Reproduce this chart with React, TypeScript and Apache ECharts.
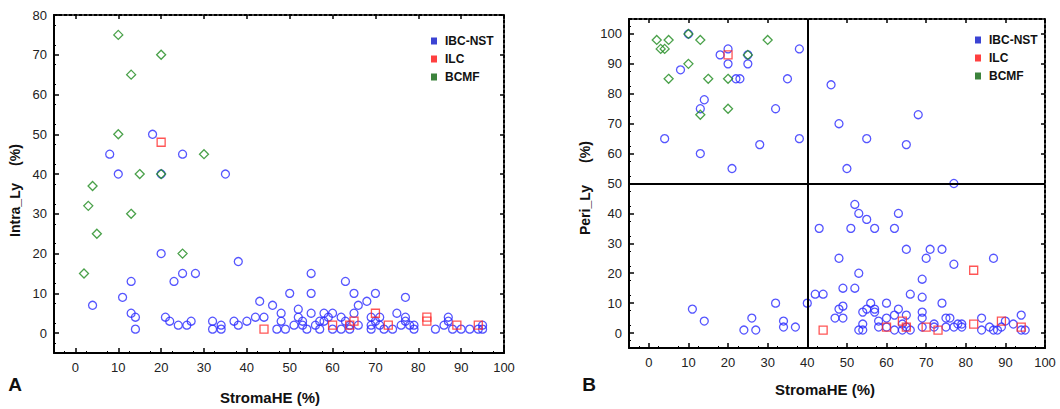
import React, { useEffect, useRef } from "react";
import * as echarts from "echarts";

const xTicks = [0, 10, 20, 30, 40, 50, 60, 70, 80, 90, 100];
const yTicksA = [0, 10, 20, 30, 40, 50, 60, 70, 80];
const yTicksB = [0, 10, 20, 30, 40, 50, 60, 70, 80, 90, 100];
const seriesNames = ["IBC-NST", "ILC", "BCMF"];

// Panel A: StromaHE (%) vs Intra_Ly (%)
const ibcA: number[][] = [
  [18, 50], [8, 45], [10, 40], [20, 40], [25, 45], [35, 40],
  [20, 20], [38, 18], [13, 13], [23, 13], [25, 15], [28, 15], [4, 7], [11, 9], [13, 5], [14, 4], [14, 1],
  [21, 4], [22, 3], [24, 2], [26, 2], [27, 3], [32, 3], [32, 1], [34, 2], [34, 1], [37, 3], [38, 2], [40, 3],
  [42, 4], [44, 4], [43, 8], [46, 7], [48, 5], [48, 3], [47, 1], [49, 1], [50, 10], [52, 6], [52, 4], [51, 2],
  [53, 3], [53, 2], [54, 1], [55, 15], [55, 10], [55, 5], [56, 2], [57, 3], [57, 1],
  [63, 13], [65, 10], [70, 10], [68, 8], [66, 7], [77, 9], [58, 5], [58, 3], [59, 4], [60, 5], [60, 1],
  [62, 4], [62, 1], [63, 3], [64, 2], [64, 1], [65, 5], [66, 2], [69, 4], [69, 2], [69, 1], [70, 3], [71, 4],
  [71, 2], [72, 1], [74, 1], [75, 5], [76, 2], [77, 4], [77, 3], [78, 2], [79, 2], [79, 1], [84, 1], [86, 2],
  [87, 4], [87, 3], [88, 1], [90, 1], [92, 1], [94, 1], [95, 2], [95, 1],
];
const ilcA: number[][] = [
  [20, 48], [44, 1], [60, 2], [64, 2], [65, 3], [70, 5], [73, 2], [82, 4], [82, 3], [89, 2], [94, 2],
];
const bcmfA: number[][] = [
  [10, 75], [20, 70], [13, 65], [10, 50], [30, 45], [15, 40], [20, 40], [4, 37], [3, 32], [13, 30],
  [5, 25], [25, 20], [2, 15],
];

// Panel B: StromaHE (%) vs Peri_Ly (%)
const ibcB: number[][] = [
  [10, 100], [20, 95], [18, 93], [25, 93], [20, 90], [25, 90], [8, 88], [22, 85], [23, 85], [35, 85],
  [38, 95], [14, 78], [13, 75], [32, 75], [4, 65], [38, 65], [13, 60], [28, 63], [21, 55], [46, 83],
  [48, 70], [68, 73], [55, 65], [65, 63], [50, 55], [77, 50],
  [43, 35], [48, 25], [42, 13], [44, 13], [40, 10], [32, 10], [11, 8], [14, 4], [26, 5], [24, 1], [27, 1],
  [34, 4], [34, 2], [37, 2], [47, 5], [48, 8],
  [52, 43], [53, 40], [63, 40], [55, 38], [51, 35], [57, 35], [62, 35], [65, 28], [71, 28], [74, 28],
  [70, 25], [87, 25], [77, 23], [53, 20], [69, 18], [49, 15], [52, 15], [66, 13], [69, 12], [56, 10],
  [60, 10], [74, 10], [49, 9], [54, 7], [55, 8], [57, 8], [57, 7], [63, 8], [49, 5], [58, 4], [60, 5],
  [62, 6], [65, 6], [69, 5], [69, 7], [75, 5], [76, 5], [84, 5], [94, 6], [54, 3], [58, 2], [60, 2],
  [64, 3], [65, 2], [69, 2], [72, 3], [75, 2], [78, 3], [79, 3], [79, 2], [86, 2], [90, 4], [92, 3],
  [53, 1], [54, 1], [62, 1], [64, 1], [66, 1], [72, 2], [77, 2], [84, 1], [87, 1], [88, 1], [89, 2],
  [94, 1], [95, 1],
];
const ilcB: number[][] = [
  [20, 93], [82, 21], [44, 1], [60, 2], [64, 4], [65, 2], [70, 2], [73, 1], [82, 3], [89, 4], [94, 2],
];
const bcmfB: number[][] = [
  [2, 98], [5, 98], [3, 95], [4, 95], [10, 100], [13, 98], [30, 98], [10, 90], [5, 85], [15, 85],
  [20, 85], [25, 93], [20, 75], [13, 73],
];

const refX = 40;
const refY = 50;

const FONT = "'Liberation Sans', Arial, sans-serif";
const BLUE = "#2b2bff";
const RED = "#ff2a2a";
const GREEN = "#1d8a1d";
const LEG_COLORS = ["#0a14c8", "#ff1010", "#0b640b"];

function mainX(grid: number) {
  return {
    type: "value",
    gridIndex: grid,
    position: "bottom",
    min: -5,
    max: 100,
    interval: 5,
    axisLine: { show: true, onZero: false, lineStyle: { color: "#000", width: 2 } },
    axisTick: { show: true, inside: true, length: 5, customValues: xTicks, lineStyle: { color: "#000", width: 1.5 } },
    minorTick: { show: true, splitNumber: 2, length: 2, lineStyle: { color: "#000", width: 1 } },
    axisLabel: { customValues: xTicks, color: "#222", fontSize: 13, fontFamily: FONT, margin: 8 },
    splitLine: { show: false },
  };
}
function frameX(grid: number) {
  return {
    type: "value",
    gridIndex: grid,
    position: "top",
    min: -5,
    max: 100,
    interval: 5,
    axisLine: { show: true, onZero: false, lineStyle: { color: "#000", width: 2, type: [3, 2] } },
    axisTick: { show: true, inside: true, length: 4, customValues: xTicks, lineStyle: { color: "#000", width: 1.5 } },
    axisLabel: { show: false },
    splitLine: { show: false },
  };
}
function mainY(grid: number, max: number, ticks: number[], margin: number) {
  return {
    type: "value",
    gridIndex: grid,
    position: "left",
    min: -5,
    max,
    interval: 5,
    axisLine: { show: true, onZero: false, lineStyle: { color: "#000", width: 2 } },
    axisTick: { show: true, inside: true, length: 5, customValues: ticks, lineStyle: { color: "#000", width: 1.5 } },
    minorTick: { show: true, splitNumber: 2, length: 2, lineStyle: { color: "#000", width: 1 } },
    axisLabel: { customValues: ticks, color: "#222", fontSize: 13, fontFamily: FONT, margin },
    splitLine: { show: false },
  };
}
function frameY(grid: number, max: number, ticks: number[]) {
  return {
    type: "value",
    gridIndex: grid,
    position: "right",
    min: -5,
    max,
    interval: 5,
    axisLine: { show: true, onZero: false, lineStyle: { color: "#000", width: 2, type: [3, 2] } },
    axisTick: { show: true, inside: true, length: 4, customValues: ticks, lineStyle: { color: "#000", width: 1.5 } },
    axisLabel: { show: false },
    splitLine: { show: false },
  };
}

function scatter(name: string, data: number[][], xi: number, yi: number, kind: number, extra: any = {}) {
  const symbols = ["circle", "rect", "diamond"];
  const colors = [BLUE, RED, GREEN];
  return {
    type: "scatter",
    name,
    data,
    xAxisIndex: xi,
    yAxisIndex: yi,
    symbol: symbols[kind],
    symbolSize: kind === 2 ? 9 : 8,
    itemStyle: { color: "rgba(255,255,255,0)", borderColor: colors[kind], borderWidth: 1.3 },
    emphasis: { disabled: true },
    z: 2 + kind,
    ...extra,
  };
}

function legend(left: number, top: number) {
  return {
    orient: "vertical",
    left,
    top,
    itemWidth: 6,
    itemHeight: 7,
    itemGap: 4,
    selectedMode: false,
    textStyle: { fontFamily: FONT, fontSize: 12, fontWeight: "bold", color: "#111", lineHeight: 14, padding: [0, 0, 0, 3] },
    data: seriesNames.map((n, i) => ({ name: n, icon: "rect", itemStyle: { color: LEG_COLORS[i], borderWidth: 0 } })),
  };
}

function vText(text: string, x: number, y: number) {
  return {
    type: "text",
    x,
    y,
    rotation: Math.PI / 2,
    style: { text, fill: "#111", font: `bold 14px ${FONT}`, textAlign: "center", textVerticalAlign: "middle" },
  };
}
function hText(text: string, x: number, y: number, size: number) {
  return {
    type: "text",
    x,
    y,
    style: { text, fill: "#111", font: `bold ${size}px ${FONT}`, textAlign: "center", textVerticalAlign: "middle" },
  };
}

export default function App() {
  const ref = useRef<HTMLDivElement>(null);
  useEffect(() => {
    if (!ref.current) return;
    const chart = echarts.init(ref.current, null, { renderer: "svg" });
    chart.setOption({
      animation: false,
      backgroundColor: "#fff",
      textStyle: { fontFamily: FONT },
      grid: [
        { left: 54, top: 15, width: 450, height: 338 },
        { left: 629, top: 19, width: 416, height: 329 },
      ],
      xAxis: [mainX(0), frameX(0), mainX(1), frameX(1)],
      yAxis: [mainY(0, 80, yTicksA, 7), frameY(0, 80, yTicksA), mainY(1, 105, yTicksB, 7), frameY(1, 105, yTicksB)],
      legend: [legend(426, 29), legend(970, 28)],
      series: [
        scatter("IBC-NST", ibcA, 0, 0, 0),
        scatter("ILC", ilcA, 0, 0, 1),
        scatter("BCMF", bcmfA, 0, 0, 2),
        scatter("IBC-NST", ibcB, 2, 2, 0, {
          markLine: {
            silent: true,
            symbol: ["none", "none"],
            label: { show: false },
            emphasis: { disabled: true },
            lineStyle: { color: "#000", width: 2, type: "solid" },
            data: [{ xAxis: refX }, { yAxis: refY }],
          },
        }),
        scatter("ILC", ilcB, 2, 2, 1),
        scatter("BCMF", bcmfB, 2, 2, 2),
      ],
      graphic: [
        vText("Intra_Ly", 15, 210),
        vText("(%)", 15, 155),
        vText("Peri_Ly", 585, 210),
        vText("(%)", 585, 152),
        hText("StromaHE (%)", 270, 397, 15),
        hText("StromaHE (%)", 825, 389, 15),
        hText("A", 15, 384, 19),
        hText("B", 589, 384, 19),
      ],
    });
    return () => chart.dispose();
  }, []);
  return (
    <div
      ref={ref}
      style={{ position: "fixed", left: 0, top: 0, width: 1060, height: 409, background: "#fff" }}
    />
  );
}
